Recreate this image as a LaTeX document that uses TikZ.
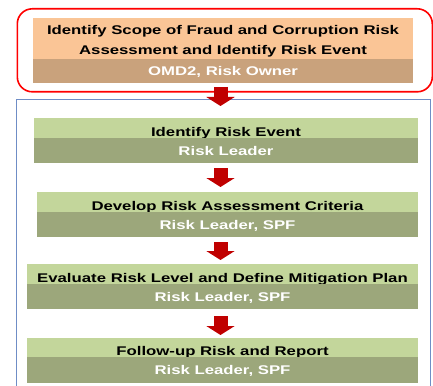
\documentclass[tikz,border=0pt]{standalone}
\usepackage{fontspec}
\setmainfont{Liberation Sans}[FakeStretch=1.33]
\usetikzlibrary{arrows.meta}
\definecolor{lorange}{HTML}{FAC596}
\definecolor{tanband}{HTML}{C9A27C}
\definecolor{lgreen}{HTML}{C3D69B}
\definecolor{olive}{HTML}{9CA77B}
\definecolor{arrowred}{HTML}{C00000}
\definecolor{framered}{HTML}{FF0000}
\definecolor{frameblue}{HTML}{6F8DC6}
\tikzset{
  band/.style={anchor=north west, inner xsep=0pt, inner ysep=0pt, outer sep=0pt,
    font=\fontsize{12.6}{20}\selectfont\bfseries},
  lightband/.style={band, fill=lgreen, text=black, text height=16pt, text depth=0pt},
  darkband/.style={band, fill=olive, text=white, text height=9pt, text depth=0pt},
  bigarrow/.style={draw=arrowred, line width=14pt,
    -{Triangle[length=9pt, width=28pt]}, arrowred},
}
\begin{document}
\begin{tikzpicture}[x=1pt,y=-1pt]
\useasboundingbox (0,0) rectangle (433,385);
\fill[white] (0,0) rectangle (433,385);
% blue frame
\draw[frameblue, line width=1pt] (16,400) -- (16,100) -- (430,100) -- (430,400);
% red frame
\node[draw=framered, line width=1.6pt, rounded corners=15pt, anchor=north west,
  minimum width=415pt, minimum height=83pt, inner sep=0pt] (frame) at (16.5,8) {};
% orange box
\node[band, fill=lorange, text=black, minimum width=380pt, minimum height=41pt,
  align=center, text height=32pt, text depth=0pt] (o1) at (33,18)
  {Identify Scope of Fraud and Corruption Risk\\Assessment and Identify Risk Event};
\node[darkband, fill=tanband, minimum width=380pt, minimum height=24pt] (o2) at (33,59) {OMD2, Risk Owner};
% box 1
\node[lightband, minimum width=384pt, minimum height=20pt] (a1) at (34,118) {Identify Risk Event};
\node[darkband, minimum width=384pt, minimum height=25pt] (a2) at (34,138) {Risk Leader};
% box 2
\node[lightband, minimum width=381pt, minimum height=20pt] (b1) at (37,192) {Develop Risk Assessment Criteria};
\node[darkband, minimum width=381pt, minimum height=25pt] (b2) at (37,212) {Risk Leader, SPF};
% box 3
\node[lightband, minimum width=391pt, minimum height=20pt] (c1) at (27,264) {Evaluate Risk Level and Define Mitigation Plan};
\node[darkband, minimum width=391pt, minimum height=25pt] (c2) at (27,284) {Risk Leader, SPF};
% box 4
\node[lightband, minimum width=391pt, minimum height=19pt] (d1) at (27,338) {Follow-up Risk and Report};
\node[darkband, minimum width=391pt, minimum height=26pt] (d2) at (27,357) {Risk Leader, SPF};
% arrows
\coordinate (ax) at (220.5,0);
\draw[bigarrow, shorten <=4pt, shorten >=12pt] (o2.south -| ax) -- (a1.north -| ax);
\draw[bigarrow, shorten <=5pt, shorten >=5pt] (a2.south -| ax) -- (b1.north -| ax);
\draw[bigarrow, shorten <=5pt, shorten >=4pt] (b2.south -| ax) -- (c1.north -| ax);
\draw[bigarrow, shorten <=7pt, shorten >=3pt] (c2.south -| ax) -- (d1.north -| ax);
\end{tikzpicture}
\end{document}
